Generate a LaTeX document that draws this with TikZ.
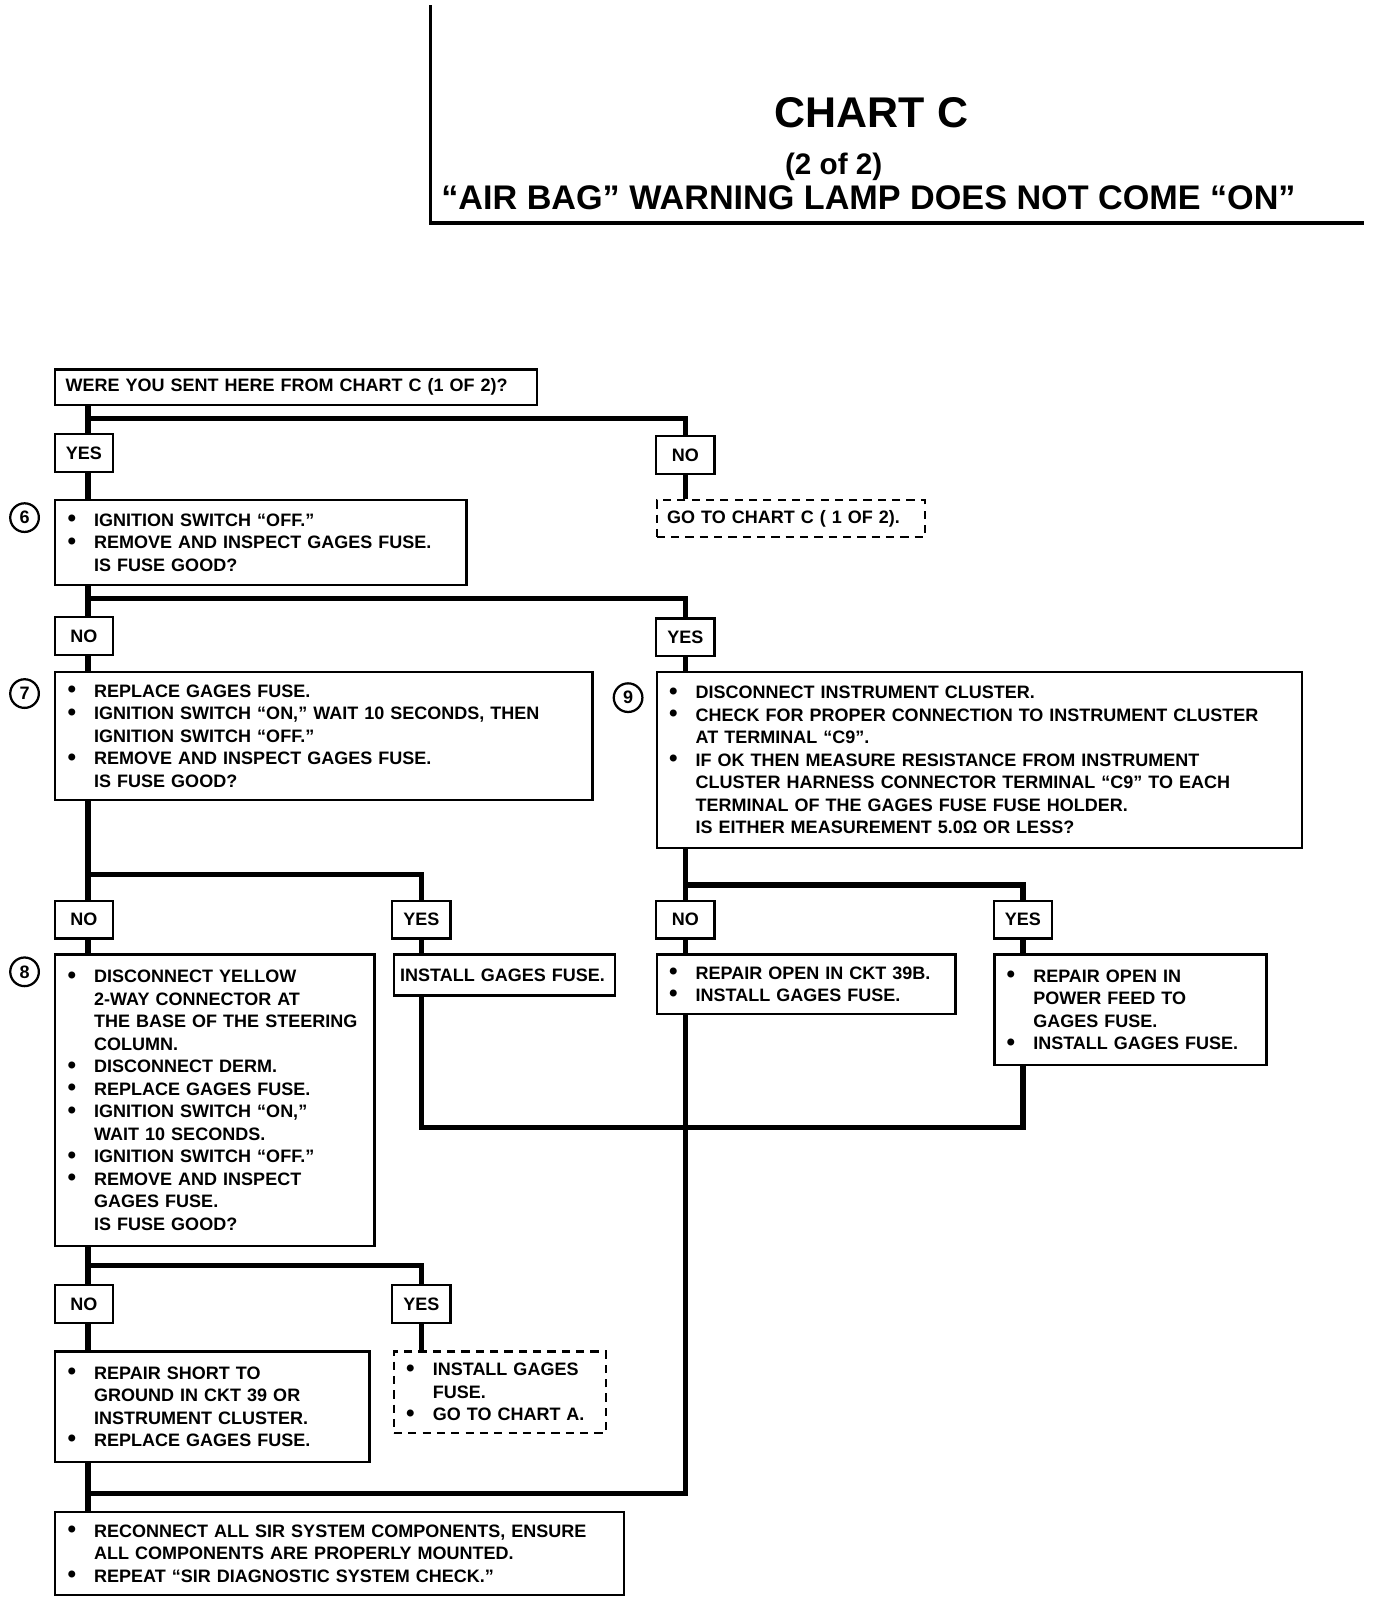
\documentclass[tikz,border=0pt]{standalone}
\usepackage{fontspec}
\setmainfont{Liberation Sans}
\usepackage{tikz}
\usetikzlibrary{positioning, calc}
\newcommand{\boxfont}{\fontsize{8.8}{11}\selectfont\bfseries}
\newcommand{\chartbul}{\makebox[13pt][l]{\raisebox{-0.2pt}{\scalebox{1.35}{\textbullet}}}}
\newcommand{\chartind}{\hspace*{13pt}}
\tikzset{
  stepbox/.style={draw=black, line width=1.1pt, fill=white, anchor=north west,
                  align=left, font=\boxfont, inner xsep=6pt, inner ysep=2pt},
  dashbox/.style={stepbox, dash pattern=on 4pt off 3pt},
  tagbox/.style={draw=black, line width=1.1pt, fill=white, minimum width=28.5pt,
                 minimum height=18.5pt, inner sep=0pt, font=\boxfont},
  numcirc/.style={circle, draw=black, line width=1.1pt, minimum size=14pt,
                  inner sep=0pt, font=\boxfont},
  wire/.style={line width=2.6pt},
  rulebar/.style={line width=1.5pt},
}

\begin{document}
\begin{tikzpicture}[x=0.5pt, y=-0.5pt]
  \useasboundingbox (0,0) rectangle (1345,1568);
  % header
  \draw[rulebar] (421,5) |- (1333,218);
  \node[font=\fontsize{21}{21}\selectfont\bfseries] (chart) at (852,110) {CHART C};
  \node[font=\fontsize{14.5}{14.5}\selectfont\bfseries] (part) at (815,163) {(2 of 2)};
  \node[font=\fontsize{16.7}{16.7}\selectfont\bfseries] (subject) at (849,193)
    {“AIR BAG” WARNING LAMP DOES NOT COME “ON”};

  % start
  \node[stepbox, inner xsep=5pt, text width=225.5pt, minimum height=17.5pt] (q) at (53,360)
    {WERE YOU SENT HERE FROM CHART C (1 OF 2)?};
  \node[tagbox] (yes1) at (82,443) {YES};
  \node[tagbox] (no1) at (670,445) {NO};
  \node[dashbox, inner xsep=5pt, text width=121pt, minimum height=18pt] (go1) at (641,488)
    {GO TO CHART C ( 1 OF 2).};

  % step 6
  \node[stepbox, text width=189pt, minimum height=41.5pt] (s6) at (53,488)
    {\chartbul IGNITION SWITCH “OFF.”\\
     \chartbul REMOVE AND INSPECT GAGES FUSE.\\
     \chartind IS FUSE GOOD?};
  \node[numcirc] (n6) at ($(s6.north west)+(-29,18)$) {6};
  \node[tagbox] (no2) at (82,622) {NO};
  \node[tagbox] (yes2) at (670,623) {YES};

  % step 7
  \node[stepbox, text width=250.5pt, minimum height=62.5pt] (s7) at (53,656)
    {\chartbul REPLACE GAGES FUSE.\\
     \chartbul IGNITION SWITCH “ON,” WAIT 10 SECONDS, THEN\\
     \chartind IGNITION SWITCH “OFF.”\\
     \chartbul REMOVE AND INSPECT GAGES FUSE.\\
     \chartind IS FUSE GOOD?};
  \node[numcirc] (n7) at ($(s7.north west)+(-29,22)$) {7};

  % step 9
  \node[stepbox, text width=303.5pt, minimum height=86pt] (s9) at (641,656)
    {\chartbul DISCONNECT INSTRUMENT CLUSTER.\\
     \chartbul CHECK FOR PROPER CONNECTION TO INSTRUMENT CLUSTER\\
     \chartind AT TERMINAL “C9”.\\
     \chartbul IF OK THEN MEASURE RESISTANCE FROM INSTRUMENT\\
     \chartind CLUSTER HARNESS CONNECTOR TERMINAL “C9” TO EACH\\
     \chartind TERMINAL OF THE GAGES FUSE FUSE HOLDER.\\
     \chartind IS EITHER MEASUREMENT 5.0Ω OR LESS?};
  \node[numcirc] (n9) at ($(s9.north west)+(-27,26)$) {9};

  \node[tagbox] (no3) at (82,899) {NO};
  \node[tagbox] (yes3) at (412,899) {YES};
  \node[tagbox] (no4) at (670,899) {NO};
  \node[tagbox] (yes4) at (1000,899) {YES};

  % step 8
  \node[stepbox, text width=144pt, minimum height=142.5pt] (s8) at (53,932)
    {\chartbul DISCONNECT YELLOW\\
     \chartind 2-WAY CONNECTOR AT\\
     \chartind THE BASE OF THE STEERING\\
     \chartind COLUMN.\\
     \chartbul DISCONNECT DERM.\\
     \chartbul REPLACE GAGES FUSE.\\
     \chartbul IGNITION SWITCH “ON,”\\
     \chartind WAIT 10 SECONDS.\\
     \chartbul IGNITION SWITCH “OFF.”\\
     \chartbul REMOVE AND INSPECT\\
     \chartind GAGES FUSE.\\
     \chartind IS FUSE GOOD?};
  \node[numcirc] (n8) at ($(s8.north west)+(-29,18)$) {8};

  \node[stepbox, inner xsep=3pt, text width=102pt, minimum height=20pt] (fix1) at (384,932)
    {\mbox{INSTALL GAGES FUSE.}};
  \node[stepbox, text width=134pt, minimum height=29pt] (fix2) at (641,932)
    {\chartbul REPAIR OPEN IN CKT 39B.\\
     \chartbul INSTALL GAGES FUSE.};
  \node[stepbox, text width=121pt, minimum height=54pt] (fix3) at (971,932)
    {\chartbul REPAIR OPEN IN\\
     \chartind POWER FEED TO\\
     \chartind GAGES FUSE.\\
     \chartbul INSTALL GAGES FUSE.};

  \node[tagbox] (no5) at (82,1275) {NO};
  \node[tagbox] (yes5) at (412,1275) {YES};
  \node[stepbox, text width=141.5pt, minimum height=54pt] (fix4) at (53,1320)
    {\chartbul REPAIR SHORT TO\\
     \chartind GROUND IN CKT 39 OR\\
     \chartind INSTRUMENT CLUSTER.\\
     \chartbul REPLACE GAGES FUSE.};
  \node[dashbox, text width=91.5pt, minimum height=40pt] (go2) at (384,1320)
    {\chartbul INSTALL GAGES\\
     \chartind FUSE.\\
     \chartbul GO TO CHART A.};

  % end
  \node[stepbox, text width=266pt, minimum height=40.5pt] (fin) at (53,1477)
    {\chartbul RECONNECT ALL SIR SYSTEM COMPONENTS, ENSURE\\
     \chartind ALL COMPONENTS ARE PROPERLY MOUNTED.\\
     \chartbul REPEAT “SIR DIAGNOSTIC SYSTEM CHECK.”};

  % connectors
  \coordinate (r1) at (86,409);
  \draw[wire] (q.south -| r1) -- (yes1.north -| r1);
  \draw[wire] (r1) -| (no1.north);
  \draw[wire] (yes1.south -| r1) -- (s6.north -| r1);
  \draw[wire] (no1.south) -- (go1.north -| no1);

  \coordinate (r2) at (86,585);
  \draw[wire] (s6.south -| r2) -- (no2.north -| r2);
  \draw[wire] (r2) -| (yes2.north);
  \draw[wire] (no2.south -| r2) -- (s7.north -| r2);
  \draw[wire] (yes2.south) -- (s9.north -| yes2);

  \coordinate (r3) at (86,855);
  \draw[wire] (s7.south -| r3) -- (no3.north -| r3);
  \draw[wire] (r3) -| (yes3.north);
  \draw[wire] (no3.south -| r3) -- (s8.north -| r3);
  \draw[wire] (yes3.south) -- (fix1.north -| yes3);

  \coordinate (r4) at (670,865);
  \draw[wire] (s9.south -| r4) -- (no4.north);
  \draw[wire] (r4) -| (yes4.north);
  \draw[wire] (no4.south) -- (fix2.north -| no4);
  \draw[wire] (yes4.south) -- (fix3.north -| yes4);

  \coordinate (j1) at (412,1102);
  \draw[wire] (fix1.south -| j1) -- (j1) -| (fix3.south -| yes4);

  \coordinate (r5) at (86,1237);
  \draw[wire] (s8.south -| r5) -- (no5.north -| r5);
  \draw[wire] (r5) -| (yes5.north);
  \draw[wire] (no5.south -| r5) -- (fix4.north -| r5);
  \draw[wire] (yes5.south) -- (go2.north -| yes5);

  \coordinate (j2) at (86,1460);
  \draw[wire] (fix4.south -| j2) -- (fin.north -| j2);
  \draw[wire] (fix2.south -| no4) |- (j2);
\end{tikzpicture}
\end{document}
